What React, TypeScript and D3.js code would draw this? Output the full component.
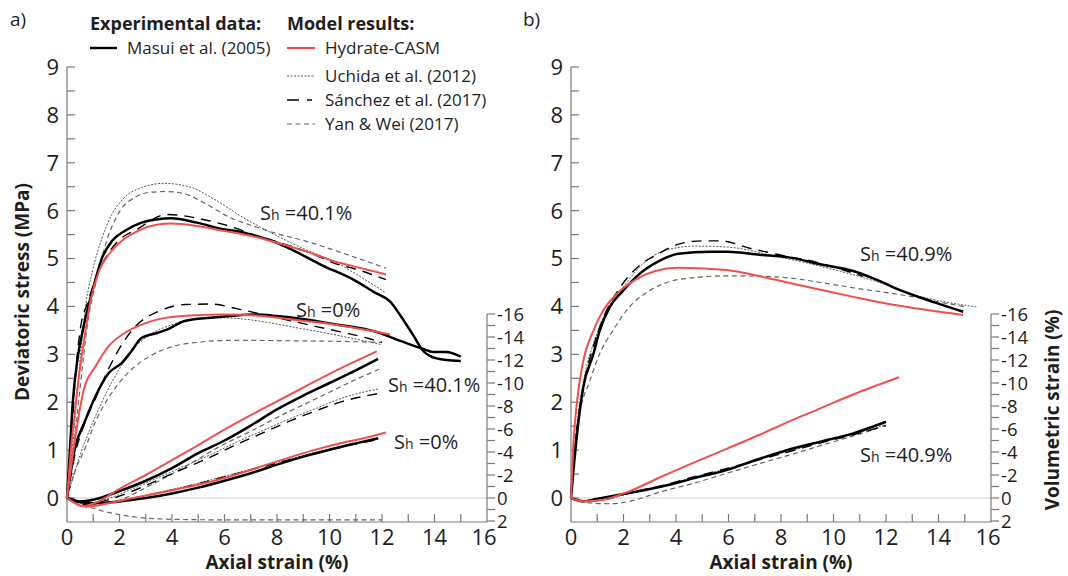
import { useEffect, useRef } from 'react';
import * as d3 from 'd3';

type Pt = [number, number];

// ---- panel a) deviatoric stress (MPa) vs axial strain (%)
const masuiQ401: Pt[] = [[0,0],[0.1,0.9],[0.22,2.0],[0.4,2.9],[0.6,3.5],[0.97,4.33],[1.34,5.02],[1.72,5.37],[2.21,5.58],[2.84,5.75],[3.46,5.82],[3.96,5.84],[4.95,5.75],[5.95,5.61],[6.5,5.57],[7.2,5.47],[8,5.33],[8.73,5.14],[9.72,4.86],[10.84,4.58],[11.7,4.3],[12.33,4.09],[12.7,3.81],[13.2,3.39],[13.57,3.07],[13.82,2.97],[14.45,2.88],[15.0,2.86]];
const masuiQ0: Pt[] = [[0,0],[0.29,1.01],[0.66,1.57],[1.09,2.13],[1.59,2.61],[2.09,2.82],[2.46,3.07],[2.84,3.34],[3.46,3.45],[3.83,3.52],[4.45,3.69],[5.32,3.76],[6.19,3.8],[7.2,3.83],[8,3.8],[8.97,3.74],[10.2,3.63],[11.83,3.46],[12.7,3.28],[13.57,3.11],[13.95,3.05],[14.45,3.05],[15,2.95]];
const casmQ401: Pt[] = [[0,0],[0.15,1.0],[0.3,1.8],[0.47,2.6],[0.65,3.3],[0.91,4.15],[1.22,4.74],[1.6,5.09],[2.09,5.37],[2.71,5.58],[3.46,5.71],[3.96,5.73],[4.95,5.68],[5.95,5.58],[7.2,5.45],[8,5.33],[9,5.17],[10.2,4.94],[11.2,4.8],[12.15,4.67]];
const casmQ0: Pt[] = [[0,0],[0.66,2.3],[1.09,2.75],[1.59,3.17],[2.21,3.45],[2.84,3.62],[3.46,3.73],[4.7,3.81],[5.95,3.83],[7.19,3.81],[8.97,3.7],[10.2,3.62],[12.3,3.42]];
const uchidaQ401: Pt[] = [[0,0],[0.2,1.0],[0.4,2.3],[0.72,4.05],[0.97,4.74],[1.34,5.44],[1.72,5.93],[2.2,6.28],[2.84,6.48],[3.7,6.57],[4.7,6.49],[5.7,6.21],[6.7,5.86],[7.7,5.56],[9,5.21],[10.2,4.93],[11,4.68],[12.1,4.3]];
const uchidaQ0: Pt[] = [[0,0],[0.5,0.9],[1,1.6],[1.5,2.2],[2,2.7],[2.5,3.1],[3,3.35],[4,3.62],[5,3.74],[6,3.76],[7,3.72],[8,3.63],[9,3.53],[10,3.43],[11,3.32],[12,3.2]];
const sanchezQ401: Pt[] = [[0,0],[0.15,1.0],[0.3,2.4],[0.5,3.5],[0.8,4.1],[1.1,4.6],[1.4,4.95],[1.9,5.34],[2.7,5.62],[3.8,5.92],[5.4,5.79],[6.4,5.64],[7,5.52],[8,5.35],[9.35,5.1],[10.2,4.9],[11,4.78],[12.15,4.56]];
const sanchezQ0: Pt[] = [[0,0],[0.3,0.9],[0.7,1.6],[1.1,2.1],[1.5,2.6],[1.9,3.03],[2.6,3.58],[3.5,3.9],[4.5,4.04],[5.5,4.05],[6.5,3.95],[7.7,3.8],[8.7,3.68],[9.5,3.58],[10.5,3.46],[11.5,3.33],[12,3.25]];
const yanQ401: Pt[] = [[0,0],[0.2,0.8],[0.4,1.8],[0.6,2.8],[0.8,3.7],[1.1,4.5],[1.5,5.35],[2,5.98],[2.6,6.28],[3.1,6.38],[3.8,6.4],[4.5,6.35],[5.2,6.17],[6.2,5.86],[7.2,5.66],[8,5.52],[9,5.38],[10.2,5.17],[12.15,4.8]];
const yanQ0: Pt[] = [[0,0],[0.3,0.55],[0.7,1.05],[1.09,1.6],[1.59,2.1],[2.21,2.55],[2.84,2.85],[3.46,3.05],[4.08,3.17],[4.95,3.25],[6.19,3.29],[7.19,3.29],[9,3.28],[10.5,3.27],[12,3.25]];

// ---- panel a) volumetric strain (%)
const masuiV401: Pt[] = [[0,0],[0.5,0.3],[1,0.15],[2,-0.6],[3,-1.5],[4,-2.6],[5,-3.9],[6,-5.0],[7,-6.3],[8,-7.7],[9,-8.9],[10,-10.0],[11,-11.1],[11.85,-12.1]];
const masuiV0: Pt[] = [[0,0],[0.5,0.35],[1,0.45],[2,0.3],[3,0.0],[4,-0.4],[5,-0.9],[6,-1.5],[7,-2.15],[8,-2.9],[9,-3.6],[10,-4.2],[11,-4.75],[11.85,-5.2]];
const casmV401: Pt[] = [[0,0],[0.6,0.7],[1.2,0.3],[2,-0.8],[3,-2.0],[4,-3.3],[5,-4.6],[6,-5.95],[7,-7.2],[8,-8.4],[9,-9.6],[10,-10.8],[11,-11.9],[11.8,-12.75]];
const casmV0: Pt[] = [[0,0],[0.7,0.75],[1.5,0.5],[2.2,0.15],[3.5,-0.45],[4.7,-1.0],[6.2,-1.87],[7.2,-2.6],[8.3,-3.4],[9.3,-4.1],[10.3,-4.7],[11.3,-5.2],[12.15,-5.7]];
const uchidaV401: Pt[] = [[0,0],[0.7,0.5],[1.5,0.1],[2.5,-0.8],[3.5,-1.8],[4.5,-2.8],[5.5,-3.8],[6.5,-4.9],[7.5,-5.9],[8.5,-6.9],[9.5,-7.8],[10.5,-8.7],[11.9,-9.5]];
const uchidaV0: Pt[] = [[0,0],[0.7,0.5],[1.5,0.4],[2.5,0.0],[3.5,-0.5],[4.5,-1.0],[5.5,-1.6],[6.5,-2.2],[7.5,-2.8],[8.5,-3.4],[9.5,-4.0],[10.5,-4.5],[11.9,-5.2]];
const sanchezV401: Pt[] = [[0,0],[0.7,0.6],[1.5,0.2],[2.5,-0.6],[3.5,-1.6],[4.5,-2.6],[5.5,-3.6],[6.5,-4.7],[7.5,-5.7],[8.5,-6.7],[9.5,-7.6],[10.5,-8.4],[11.9,-9.1]];
const sanchezV0: Pt[] = [[0,0],[0.8,0.6],[1.6,0.4],[2.6,0.0],[3.6,-0.5],[4.6,-1.0],[5.6,-1.6],[6.6,-2.2],[7.6,-2.8],[8.6,-3.4],[9.6,-3.95],[10.6,-4.5],[11.9,-5.1]];
const yanV401: Pt[] = [[0,0],[1,0.6],[2,0.2],[3,-0.9],[4,-2.1],[5,-3.4],[6,-4.7],[7,-5.8],[8,-7.0],[9,-8.1],[10,-9.2],[11,-10.3],[11.9,-11.2]];
const yanV0: Pt[] = [[0,0],[0.97,0.87],[2.21,1.53],[3.46,1.81],[4.7,1.88],[6,1.9],[8,1.9],[10,1.9],[12,1.9]];

// ---- panel b) Sh = 40.9%
const masuiQ409: Pt[] = [[0,0],[0.22,1.28],[0.47,2.32],[0.85,3.0],[1.09,3.49],[1.47,3.98],[1.97,4.32],[2.59,4.67],[3.33,4.94],[4.08,5.1],[5.32,5.14],[5.95,5.14],[7.19,5.08],[8.25,5.03],[9.5,4.88],[10.75,4.74],[11.63,4.56],[12.63,4.32],[13.88,4.08],[14.94,3.89]];
const casmQ409: Pt[] = [[0,0],[0.1,1.2],[0.22,1.97],[0.47,2.87],[0.85,3.49],[1.22,3.91],[1.72,4.25],[2.46,4.56],[3.21,4.74],[4.08,4.81],[5.07,4.79],[6.19,4.74],[7.2,4.63],[8.25,4.5],[9.5,4.35],[10.75,4.2],[12,4.06],[13.25,3.95],[14.94,3.82]];
const uchidaQ409: Pt[] = [[0,0],[0.2,1.4],[0.5,2.5],[0.9,3.3],[1.3,3.85],[1.97,4.39],[2.84,4.94],[3.5,5.15],[4.7,5.26],[5.95,5.24],[7.94,5.03],[9.5,4.84],[11.75,4.5],[13.25,4.22],[15.44,3.99]];
const sanchezQ409: Pt[] = [[0,0],[0.2,1.3],[0.5,2.4],[0.9,3.25],[1.3,3.85],[1.9,4.42],[2.6,4.85],[3.33,5.1],[4.1,5.3],[5.0,5.37],[5.7,5.37],[6.84,5.21],[7.6,5.12],[8.25,5.04],[9.0,4.97],[9.63,4.88],[11.13,4.63]];
const yanQ409: Pt[] = [[0,0],[0.1,0.93],[0.3,1.7],[0.72,2.45],[1.09,3.01],[1.59,3.49],[2.21,3.98],[2.96,4.32],[3.83,4.53],[4.7,4.6],[5.95,4.64],[7.19,4.63],[8.25,4.6],[9.5,4.5],[10.75,4.39],[12,4.29],[13.25,4.18],[14.13,4.08],[15,4.0]];

const masuiV409: Pt[] = [[0,0],[0.47,0.29],[0.97,0.09],[2.21,-0.43],[3.46,-1.0],[4.7,-1.73],[5.95,-2.45],[7.1,-3.35],[8.25,-4.18],[9.5,-4.9],[10.75,-5.62],[12,-6.63]];
const casmV409: Pt[] = [[0,0],[0.47,0.29],[1.22,0.15],[2.21,-0.57],[3.46,-1.87],[4.7,-3.1],[5.95,-4.3],[7.19,-5.5],[8.25,-6.6],[9.5,-7.8],[10.75,-9.0],[12.5,-10.5]];
const uchidaV409: Pt[] = [[0,0],[0.5,0.3],[1.2,0.2],[2.2,-0.4],[3.5,-1.05],[4.7,-1.8],[6,-2.6],[7.2,-3.4],[8.5,-4.2],[9.7,-4.95],[11,-5.7],[12,-6.4]];
const sanchezV409: Pt[] = [[0,0],[0.5,0.25],[1.2,0.15],[2.2,-0.45],[3.5,-1.1],[4.7,-1.85],[6,-2.6],[7.2,-3.35],[8.5,-4.15],[9.7,-4.9],[11,-5.65],[12,-6.3]];
const yanV409: Pt[] = [[0,0],[0.72,0.43],[1.5,0.5],[2.21,0.3],[3.46,-0.57],[4.7,-1.3],[5.95,-2.16],[7.19,-3.0],[8.5,-3.85],[9.5,-4.55],[10.75,-5.4],[12,-6.3]];

const xTicks = [0, 2, 4, 6, 8, 10, 12, 14, 16];
const qTicks = [0, 1, 2, 3, 4, 5, 6, 7, 8, 9];
const vTicks = [-16, -14, -12, -10, -8, -6, -4, -2, 0, 2];

const legendModels = ['Hydrate-CASM', 'Uchida et al. (2012)', 'Sánchez et al. (2017)', 'Yan & Wei (2017)'];

const FONT = '"Open Sans", sans-serif';
const AXIS = '#7a7a7a';
const INK = '#1e1e1e';

const styles: Record<string, { stroke: string; width: number; dash?: string }> = {
  masui: { stroke: '#000', width: 2.5 },
  casm: { stroke: '#ef4f4f', width: 2 },
  uchida: { stroke: '#555', width: 1, dash: '2 1.5' },
  sanchez: { stroke: '#000', width: 1.4, dash: '10 7' },
  yan: { stroke: '#666', width: 1.2, dash: '5 3.5' },
};

interface PanelCfg {
  left: number;
  right: number;
  stress: [string, Pt[]][];
  vol: [string, Pt[]][];
}

const TOP = 67;
const ZERO = 498;
const BOTTOM = 522;

function drawPanel(svg: d3.Selection<SVGSVGElement, unknown, null, undefined>, cfg: PanelCfg) {
  const x = d3.scaleLinear().domain([0, 16]).range([cfg.left, cfg.right]);
  const y = d3.scaleLinear().domain([0, 9]).range([ZERO, TOP]);
  const v = d3.scaleLinear().domain([0, -16]).range([ZERO, 314]);

  const g = svg.append('g');

  // zero line
  g.append('line').attr('x1', x(0)).attr('x2', x(16)).attr('y1', y(0)).attr('y2', y(0))
    .attr('stroke', '#cfcfcf').attr('stroke-width', 1);

  // left axis
  g.append('line').attr('x1', x(0)).attr('x2', x(0)).attr('y1', TOP).attr('y2', BOTTOM)
    .attr('stroke', AXIS).attr('stroke-width', 1.2);
  d3.range(0, 9.01, 0.5).forEach(t => {
    g.append('line').attr('x1', x(0)).attr('x2', x(0) + 8).attr('y1', y(t)).attr('y2', y(t))
      .attr('stroke', AXIS).attr('stroke-width', 1.2);
  });
  qTicks.forEach(t => {
    g.append('text').attr('x', x(0) - 8).attr('y', y(t)).attr('dy', '0.36em')
      .attr('text-anchor', 'end').attr('font-size', 22).attr('fill', INK).text(String(t));
  });

  // bottom axis
  g.append('line').attr('x1', x(0)).attr('x2', x(16)).attr('y1', BOTTOM).attr('y2', BOTTOM)
    .attr('stroke', AXIS).attr('stroke-width', 1.2);
  d3.range(1, 16).forEach(t => {
    g.append('line').attr('x1', x(t)).attr('x2', x(t)).attr('y1', BOTTOM).attr('y2', BOTTOM - 8)
      .attr('stroke', AXIS).attr('stroke-width', 1.2);
  });
  xTicks.forEach(t => {
    g.append('text').attr('x', x(t) - (t === 16 ? 3 : 0)).attr('y', 545).attr('text-anchor', 'middle')
      .attr('font-size', 22).attr('fill', INK).text(String(t));
  });
  g.append('text').attr('x', (x(0) + x(16)) / 2).attr('y', 569).attr('text-anchor', 'middle')
    .attr('font-size', 19).attr('font-weight', 'bold').attr('fill', INK).text('Axial strain (%)');

  // right (volumetric) axis
  g.append('line').attr('x1', x(16)).attr('x2', x(16)).attr('y1', v(-16)).attr('y2', BOTTOM)
    .attr('stroke', AXIS).attr('stroke-width', 1.2);
  d3.range(-16, 2.01, 1).forEach(t => {
    g.append('line').attr('x1', x(16)).attr('x2', x(16) + 8).attr('y1', v(t)).attr('y2', v(t))
      .attr('stroke', AXIS).attr('stroke-width', 1.2);
  });
  vTicks.forEach(t => {
    g.append('text').attr('x', x(16) + 10).attr('y', v(t)).attr('dy', '0.36em')
      .attr('font-size', 18.5).attr('fill', INK).text(String(t));
  });

  const line = (scaleY: d3.ScaleLinear<number, number>) =>
    d3.line<Pt>().x(d => x(d[0])).y(d => scaleY(d[1])).curve(d3.curveMonotoneX);

  const order = ['yan', 'uchida', 'sanchez', 'masui', 'casm'];
  const draw = (list: [string, Pt[]][], scaleY: d3.ScaleLinear<number, number>) => {
    order.forEach(key => {
      list.filter(s => s[0] === key).forEach(([k, data]) => {
        const st = styles[k];
        g.append('path').datum(data).attr('d', line(scaleY))
          .attr('fill', 'none').attr('stroke', st.stroke).attr('stroke-width', st.width)
          .attr('stroke-dasharray', st.dash ?? null).attr('stroke-linejoin', 'round');
      });
    });
  };
  draw(cfg.vol, v);
  draw(cfg.stress, y);
}

function label(svg: d3.Selection<SVGSVGElement, unknown, null, undefined>, px: number, py: number, rest: string) {
  const t = svg.append('text').attr('x', px).attr('y', py).attr('font-size', 20).attr('fill', INK);
  t.append('tspan').text('S');
  t.append('tspan').attr('font-size', 14).text('h');
  t.append('tspan').text(' =' + rest);
}

export default function App() {
  const ref = useRef<SVGSVGElement>(null);

  useEffect(() => {
    if (!ref.current) return;
    const svg = d3.select(ref.current);
    svg.selectAll('*').remove();

    drawPanel(svg, {
      left: 67, right: 487,
      stress: [['yan', yanQ401], ['yan', yanQ0], ['uchida', uchidaQ401], ['uchida', uchidaQ0],
        ['sanchez', sanchezQ401], ['sanchez', sanchezQ0], ['masui', masuiQ401], ['masui', masuiQ0],
        ['casm', casmQ401], ['casm', casmQ0]],
      vol: [['yan', yanV401], ['yan', yanV0], ['uchida', uchidaV401], ['uchida', uchidaV0],
        ['sanchez', sanchezV401], ['sanchez', sanchezV0], ['masui', masuiV401], ['masui', masuiV0],
        ['casm', casmV401], ['casm', casmV0]],
    });
    drawPanel(svg, {
      left: 571, right: 991,
      stress: [['yan', yanQ409], ['uchida', uchidaQ409], ['sanchez', sanchezQ409], ['masui', masuiQ409], ['casm', casmQ409]],
      vol: [['yan', yanV409], ['uchida', uchidaV409], ['sanchez', sanchezV409], ['masui', masuiV409], ['casm', casmV409]],
    });

    // axis titles
    svg.append('text').attr('transform', 'translate(29,292) rotate(-90)').attr('text-anchor', 'middle')
      .attr('font-size', 19).attr('font-weight', 'bold').attr('fill', INK).text('Deviatoric stress (MPa)');
    svg.append('text').attr('transform', 'translate(1059,410) rotate(-90)').attr('text-anchor', 'middle')
      .attr('font-size', 19).attr('font-weight', 'bold').attr('fill', INK).text('Volumetric strain (%)');

    svg.append('text').attr('x', 10).attr('y', 26).attr('font-size', 19).attr('fill', INK).text('a)');
    svg.append('text').attr('x', 523).attr('y', 26).attr('font-size', 19).attr('fill', INK).text('b)');

    // annotations
    label(svg, 260, 220, '40.1%');
    label(svg, 296, 317, '0%');
    label(svg, 388, 392, '40.1%');
    label(svg, 394, 449, '0%');
    label(svg, 860, 261, '40.9%');
    label(svg, 860, 462, '40.9%');

    // legend
    svg.append('text').attr('x', 90).attr('y', 30).attr('font-size', 18).attr('font-weight', 'bold')
      .attr('fill', INK).text('Experimental data:');
    svg.append('text').attr('x', 287).attr('y', 30).attr('font-size', 18).attr('font-weight', 'bold')
      .attr('fill', INK).text('Model results:');
    svg.append('line').attr('x1', 90).attr('x2', 117).attr('y1', 48).attr('y2', 48)
      .attr('stroke', '#000').attr('stroke-width', 2.4);
    svg.append('text').attr('x', 127).attr('y', 54).attr('font-size', 17).attr('fill', INK).text('Masui et al. (2005)');

    const keys = ['casm', 'uchida', 'sanchez', 'yan'];
    const rowY = [48, 76, 100, 124];
    keys.forEach((k, i) => {
      const st = styles[k];
      svg.append('line').attr('x1', 287).attr('x2', 315).attr('y1', rowY[i]).attr('y2', rowY[i])
        .attr('stroke', st.stroke).attr('stroke-width', k === 'sanchez' ? 1.6 : st.width)
        .attr('stroke-dasharray', k === 'sanchez' ? '12 8 5 20' : (st.dash ?? null));
      svg.append('text').attr('x', 325).attr('y', rowY[i] + 6).attr('font-size', 17).attr('fill', INK)
        .text(legendModels[i]);
    });
  }, []);

  return (
    <svg ref={ref} width={1068} height={576}
      style={{ position: 'absolute', left: 0, top: 0, fontFamily: FONT, background: '#fff' }} />
  );
}
